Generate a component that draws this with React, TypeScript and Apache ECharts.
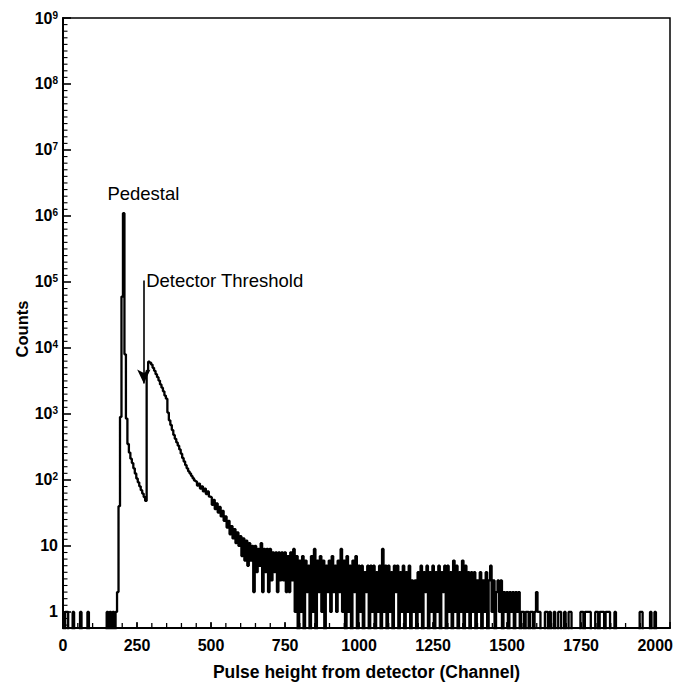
import React, { useEffect, useRef } from 'react';
import * as echarts from 'echarts';

// Histogram: counts per 5-channel bin, starting at channel 0
const CHANNEL_STEP = 5;
const counts: number[] = [
  // 0-45
  1, 0, 1, 1, 0, 0, 0, 1, 0, 0,
  // 50-95
  0, 0, 1, 0, 0, 0, 0, 1, 0, 0,
  // 100-145
  0, 0, 0, 0, 0, 0, 0, 0, 0, 0,
  // 150-195
  1, 0, 1, 0, 1, 0, 1, 2, 40, 900,
  // 200-245 (pedestal)
  60000, 1100000, 8000, 850, 350, 260, 210, 180, 150, 125,
  // 250-295 (detector threshold)
  105, 92, 80, 70, 62, 55, 48, 4500, 6200, 6000,
  // 300-345
  5600, 5000, 4500, 4000, 3600, 3200, 2800, 2500, 2200, 1900,
  // 350-395
  1700, 1050, 800, 680, 570, 480, 420, 370, 330, 290,
  // 400-445
  250, 215, 190, 168, 150, 135, 125, 115, 106, 98,
  // 450-495
  95, 82, 88, 74, 80, 67, 74, 61, 67, 56,
  // 500-545
  55, 42, 50, 36, 44, 32, 39, 28, 34, 24,
  // 550-595
  28, 19, 24, 15, 20, 13, 18, 11, 16, 10,
  // 600-645
  14, 7, 13, 6, 12, 5, 11, 6, 10, 2,
  // 650-695
  10, 4, 9, 5, 11, 2, 9, 4, 9, 2,
  // 700-745
  9, 3, 8, 4, 8, 2, 8, 3, 8, 3,
  // 750-795
  8, 2, 7, 2, 8, 3, 9, 1, 7, 0,
  // 800-845
  6, 1, 7, 0, 6, 2, 5, 0, 7, 1,
  // 850-895
  9, 0, 6, 2, 7, 1, 6, 0, 5, 2,
  // 900-945
  6, 1, 7, 2, 5, 1, 6, 2, 9, 1,
  // 950-995
  6, 0, 7, 1, 5, 0, 6, 2, 7, 0,
  // 1000-1045
  5, 1, 5, 0, 4, 2, 5, 0, 5, 1,
  // 1050-1095
  5, 0, 4, 1, 5, 0, 9, 1, 5, 0,
  // 1100-1145
  5, 1, 4, 0, 5, 2, 5, 0, 4, 1,
  // 1150-1195
  5, 0, 4, 1, 5, 0, 3, 1, 3, 0,
  // 1200-1245
  4, 1, 5, 0, 4, 2, 5, 0, 4, 1,
  // 1250-1295
  5, 0, 4, 1, 5, 0, 4, 2, 5, 0,
  // 1300-1345
  5, 1, 4, 0, 6, 1, 5, 0, 4, 1,
  // 1350-1395
  6, 0, 5, 1, 4, 0, 4, 1, 4, 0,
  // 1400-1445
  3, 1, 4, 0, 3, 1, 4, 0, 3, 5,
  // 1450-1495
  1, 3, 0, 2, 3, 1, 3, 0, 2, 1,
  // 1500-1545
  2, 0, 2, 1, 2, 0, 2, 1, 2, 0,
  // 1550-1595
  1, 1, 0, 1, 1, 0, 1, 1, 0, 1,
  // 1600-1645
  2, 1, 1, 0, 0, 0, 1, 1, 0, 1,
  // 1650-1695
  0, 0, 1, 0, 0, 1, 1, 0, 0, 1,
  // 1700-1745
  0, 0, 1, 1, 0, 0, 0, 0, 0, 0,
  // 1750-1795
  1, 1, 0, 1, 1, 1, 1, 0, 0, 0,
  // 1800-1845
  1, 1, 0, 1, 1, 1, 0, 1, 1, 1,
  // 1850-1895
  0, 0, 0, 1, 0, 0, 0, 0, 0, 0,
  // 1900-1945
  0, 0, 0, 0, 0, 0, 0, 0, 0, 0,
  // 1950-1995
  1, 1, 0, 0, 0, 0, 0, 1, 0, 0,
  // 2000-2040
  1, 0, 0, 0, 0, 0, 0, 0, 0,
];

const X_MIN = 0;
const X_MAX = 2050;
const Y_MIN = 0.57;
const Y_MAX = 1e9;
const xTickLabels = [0, 250, 500, 750, 1000, 1250, 1500, 1750, 2000];
const yDecades = [0, 1, 2, 3, 4, 5, 6, 7, 8, 9];
// small ticks: every 50 channels on x, ten per decade on y
const X_MINOR_STEP = 50;
const Y_MINOR_PER_DECADE = 10;

// annotations: [channel, count]
const pedestalLabel = { text: 'Pedestal', channel: 150, count: 2.2e6 };
const thresholdLabel = { text: 'Detector Threshold', channel: 281, count: 1.07e5 };
const thresholdArrow = { channel: 273, fromCount: 1.05e5, toCount: 2900 };

const FONT = "'Liberation Sans', Arial, Helvetica, sans-serif";

export default function App() {
  const ref = useRef<HTMLDivElement>(null);
  useEffect(() => {
    if (!ref.current) return;
    const chart = echarts.init(ref.current, null, { renderer: 'svg' });
    const data = counts.map((c, i) => [i * CHANNEL_STEP, c > 0 ? c : 0.1]);
    const labelStyle = { color: '#000', fontSize: 16, fontWeight: 'bold', fontFamily: FONT };
    const option: any = {
      animation: false,
      backgroundColor: '#fff',
      textStyle: { fontFamily: FONT },
      grid: {
        left: 63,
        right: 8,
        top: 18,
        bottom: 56,
        containLabel: false,
        outerBoundsMode: 'none',
        show: true,
        borderColor: '#000',
        borderWidth: 1.5,
        backgroundColor: 'transparent',
      },
      xAxis: {
        type: 'value',
        position: 'bottom',
        min: X_MIN,
        max: X_MAX,
        interval: 250,
        name: 'Pulse height from detector (Channel)',
        nameLocation: 'middle',
        nameGap: 35,
        nameMoveOverlap: false,
        nameTextStyle: { fontSize: 17.5, fontWeight: 'bold', color: '#000', fontFamily: FONT },
        axisLine: { show: true, onZero: false, lineStyle: { color: '#000', width: 2 } },
        axisTick: { show: true, inside: true, length: 6, lineStyle: { color: '#000', width: 1.5 } },
        minorTick: { show: false },
        splitLine: { show: false },
        axisLabel: {
          ...labelStyle,
          margin: 9,
          formatter: (v: number) => (xTickLabels.indexOf(v) >= 0 ? String(v) : ''),
        },
      },
      yAxis: {
        type: 'log',
        logBase: 10,
        position: 'left',
        min: Y_MIN,
        max: Y_MAX,
        splitNumber: 10,
        name: 'Counts',
        nameLocation: 'middle',
        nameRotate: 90,
        nameGap: 33,
        nameMoveOverlap: false,
        nameTextStyle: {
          fontSize: 16.5,
          fontWeight: 'bold',
          color: '#000',
          fontFamily: FONT,
          padding: [0, 12, 0, 0],
        },
        axisLine: { show: true, onZero: false, lineStyle: { color: '#000', width: 2 } },
        axisTick: { show: true, inside: true, length: 8, lineStyle: { color: '#000', width: 1.6 } },
        minorTick: { show: false },
        splitLine: { show: false },
        axisLabel: {
          ...labelStyle,
          margin: 5,
          formatter: (v: number) => {
            const e = Math.round(Math.log10(v));
            if (Math.abs(Math.log10(v) - e) > 1e-6 || yDecades.indexOf(e) < 0) return '';
            if (e === 0) return '1';
            if (e === 1) return '10';
            return '10{sup|' + e + '}';
          },
          rich: {
            sup: { fontSize: 10, fontWeight: 'bold', color: '#000', fontFamily: FONT, verticalAlign: 'top' },
          },
        },
      },
      series: [
        {
          type: 'line',
          data,
          step: 'middle',
          showSymbol: false,
          symbol: 'none',
          clip: true,
          silent: true,
          lineStyle: { color: '#000', width: 2.3 },
          markPoint: {
            silent: true,
            symbol: 'circle',
            symbolSize: 0,
            data: [pedestalLabel, thresholdLabel].map((a) => ({
              coord: [a.channel, a.count],
              label: {
                show: true,
                position: 'right',
                distance: 0,
                formatter: a.text,
                color: '#000',
                fontSize: 18.5,
                fontFamily: FONT,
              },
            })),
          },
          markLine: {
            silent: true,
            animation: false,
            symbol: ['none', 'arrow'],
            symbolSize: [10, 14],
            label: { show: false },
            lineStyle: { color: '#000', width: 1.6, type: 'solid' },
            data: [
              [
                { coord: [thresholdArrow.channel, thresholdArrow.fromCount] },
                { coord: [thresholdArrow.channel, thresholdArrow.toCount] },
              ],
            ],
          },
        },
      ],
    };
    chart.setOption(option);

    // Small tick marks placed through the chart's own axis scales
    const toX = (v: number) => chart.convertToPixel({ xAxisIndex: 0 }, v) as number;
    const toY = (v: number) => chart.convertToPixel({ yAxisIndex: 0 }, v) as number;
    const left = toX(X_MIN);
    const bottom = toY(Y_MIN);
    const elements: any[] = [];
    for (let c = X_MINOR_STEP; c < X_MAX; c += X_MINOR_STEP) {
      const px = toX(c);
      elements.push({
        type: 'line',
        silent: true,
        z: 10,
        shape: { x1: px, y1: bottom, x2: px, y2: bottom - 5 },
        style: { stroke: '#000', lineWidth: 1.3 },
      });
    }
    const eMin = Math.ceil(Math.log10(Y_MIN) * Y_MINOR_PER_DECADE);
    const eMax = Math.floor(Math.log10(Y_MAX) * Y_MINOR_PER_DECADE);
    for (let k = eMin; k <= eMax; k++) {
      if (k % Y_MINOR_PER_DECADE === 0) continue;
      const py = toY(Math.pow(10, k / Y_MINOR_PER_DECADE));
      elements.push({
        type: 'line',
        silent: true,
        z: 10,
        shape: { x1: left, y1: py, x2: left + 4.5, y2: py },
        style: { stroke: '#000', lineWidth: 1.1 },
      });
    }
    chart.setOption({ graphic: { elements } });
    return () => chart.dispose();
  }, []);
  return (
    <div
      ref={ref}
      style={{ position: 'fixed', left: 0, top: 0, width: 678, height: 684, background: '#fff' }}
    />
  );
}
